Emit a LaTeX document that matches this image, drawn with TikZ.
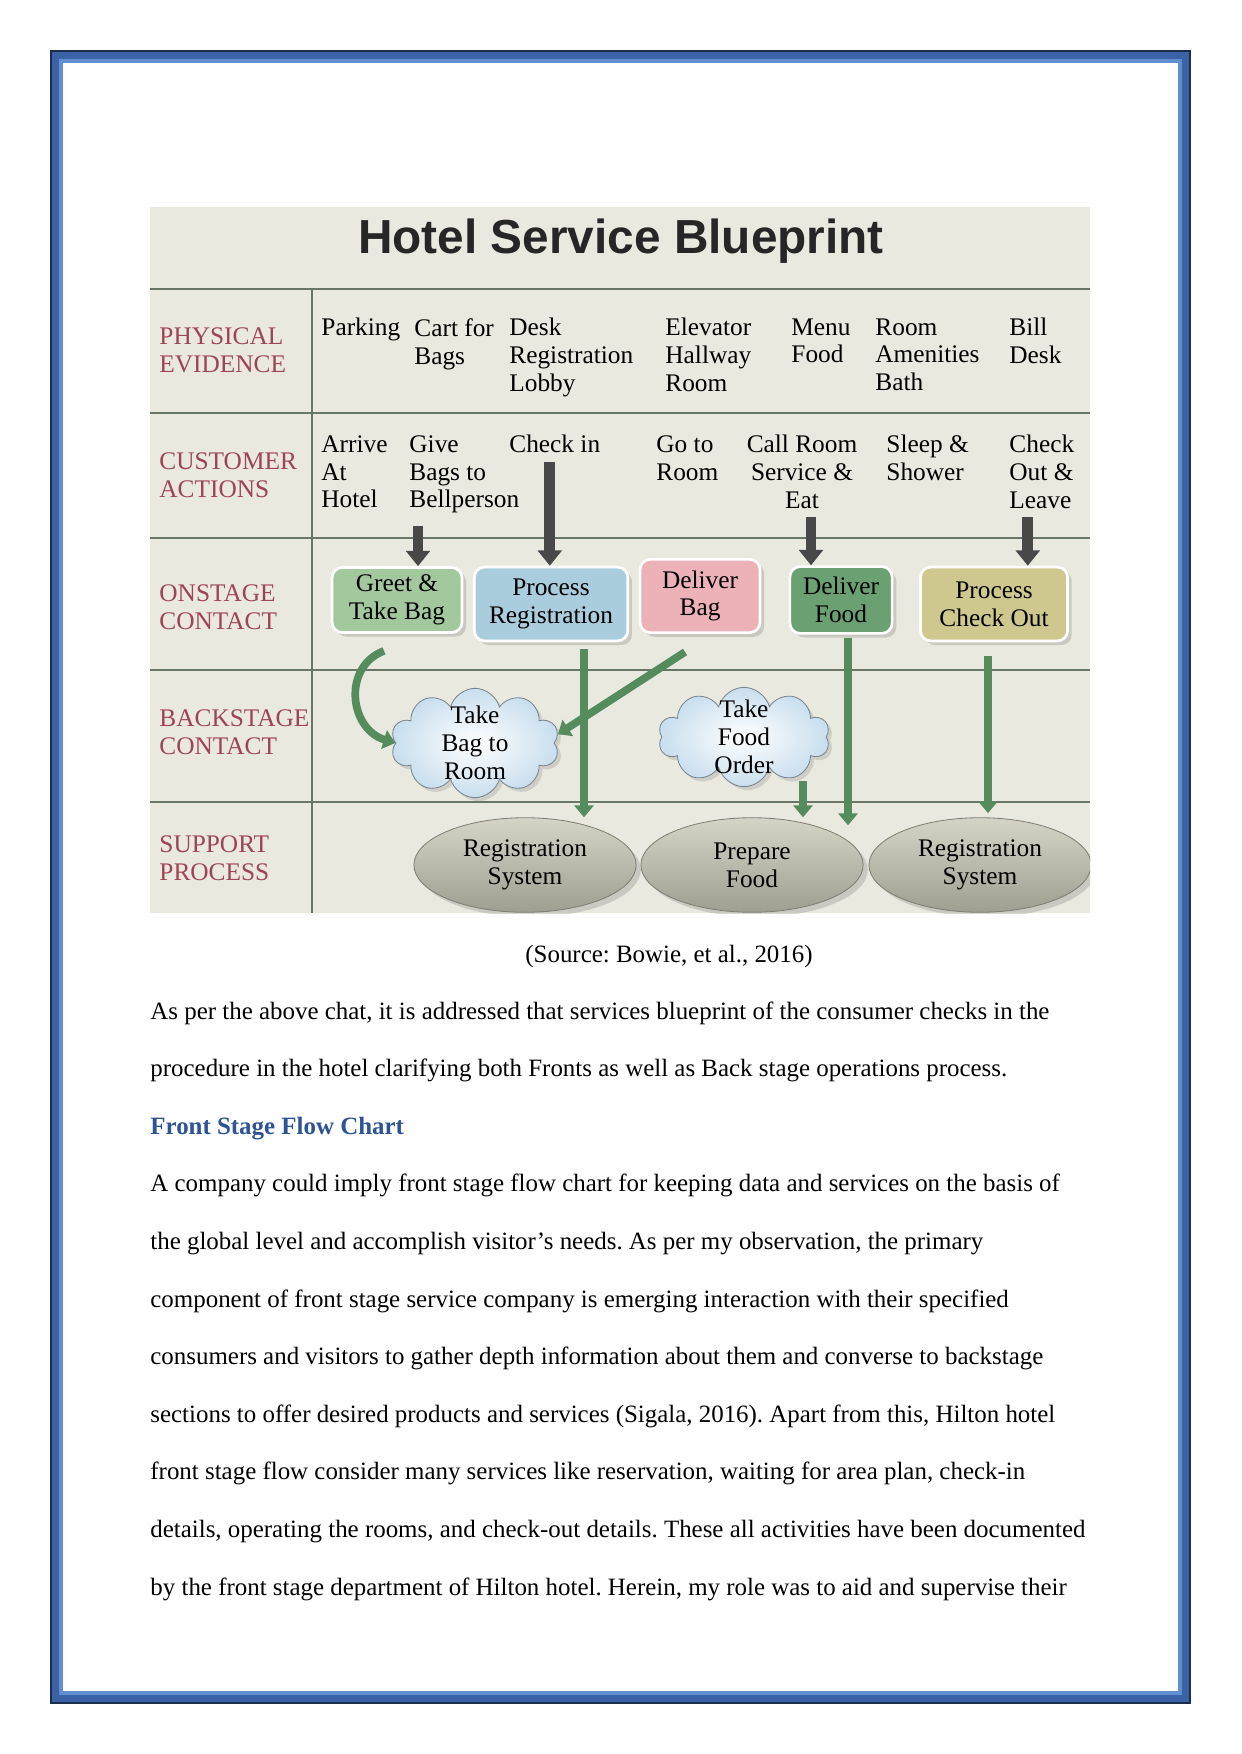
\documentclass[tikz,border=0pt]{standalone}
\usepackage{fontspec}
\setmainfont{Liberation Serif}
\newfontfamily\titlefont{Liberation Sans}
\usepackage{tikz}
\usetikzlibrary{arrows.meta,shapes,shapes.geometric,shapes.symbols,calc,positioning,shadows}
\frenchspacing

\definecolor{bandblue}{RGB}{58,98,165}
\definecolor{banddark}{RGB}{28,46,78}
\definecolor{bandlight}{RGB}{96,142,208}
\definecolor{chartbg}{RGB}{233,233,223}
\definecolor{laneline}{RGB}{105,118,102}
\definecolor{lanered}{RGB}{158,68,84}
\definecolor{greetgreen}{RGB}{164,200,158}
\definecolor{regblue}{RGB}{170,205,222}
\definecolor{bagpink}{RGB}{236,178,183}
\definecolor{foodgreen}{RGB}{106,160,114}
\definecolor{outkhaki}{RGB}{206,199,142}
\definecolor{cloudblue}{RGB}{200,222,238}
\definecolor{cloudline}{RGB}{120,132,142}
\definecolor{supptop}{RGB}{214,212,199}
\definecolor{suppbot}{RGB}{160,158,144}
\definecolor{arrowgray}{RGB}{72,72,72}
\definecolor{linkgreen}{RGB}{84,140,94}
\definecolor{headblue}{RGB}{47,84,150}

\newcommand{\chartfont}{\fontsize{12.2}{13.4}\selectfont}
\tikzset{lane/.style={font=\chartfont, text=lanered, align=left, anchor=north west, inner sep=0pt},
  item/.style={font=\chartfont, align=left, anchor=north west, inner sep=0pt},
  onstage/.style={draw=white, line width=1.3pt, rounded corners=5pt, align=center, font=\chartfont,
    inner sep=1pt, drop shadow={opacity=.3, shadow xshift=.7mm, shadow yshift=-.7mm}},
  backstage/.style={cloud, cloud puffs=10, cloud ignores aspect, draw=cloudline, inner color=white,
    outer color=cloudblue, align=center, font=\chartfont, inner xsep=0pt, inner ysep=-3mm,
    drop shadow={opacity=.25, shadow xshift=.6mm, shadow yshift=-.6mm}},
  support/.style={ellipse, draw=suppbot!80!black, top color=supptop, bottom color=suppbot, align=center,
    font=\chartfont, inner sep=0pt, minimum width=37.6mm, minimum height=16mm,
    drop shadow={opacity=.3, shadow xshift=.8mm, shadow yshift=-.8mm}},
  darrow/.style={draw=arrowgray, line width=1.8mm, -{Triangle[length=2.6mm,width=4mm]}},
  garrow/.style={draw=linkgreen, line width=1.3mm, -{Triangle[length=2mm,width=3.2mm]}},
  bodyline/.style={font=\fontsize{12}{14}\selectfont, anchor=base west, inner sep=0pt}}

\begin{document}
\begin{tikzpicture}[x=0.16922mm, y=-0.16922mm]
\useasboundingbox (0,0) rectangle (1241,1754);
% page frame
\draw[bandblue, line width=2.2mm] (56.5,56.5) rectangle (1184.5,1697.5);
\draw[bandlight, line width=0.7mm] (61,61) rectangle (1180,1693);
\draw[banddark, line width=0.4mm] (51,51) rectangle (1190,1703);

% blueprint chart
\begin{scope}
\clip (150,207) rectangle (1090,913);
\fill[chartbg] (150,207) rectangle (1090,913);
\draw[laneline, line width=1.2pt] (150,289) -- (1090,289) (150,413) -- (1090,413)
  (150,538) -- (1090,538) (150,670) -- (1090,670) (150,802) -- (1090,802)
  (312,289) -- (312,913);

\node[font=\titlefont\bfseries\fontsize{23}{26}\selectfont, text={rgb,255:red,38;green,38;blue,38}] (title) at (621,241) {Hotel Service Blueprint};

\node[lane] (pe) at (159,327) {PHYSICAL\\EVIDENCE};
\node[lane] (ca) at (159,452) {CUSTOMER\\ACTIONS};
\node[lane] (oc) at (159,584) {ONSTAGE\\CONTACT};
\node[lane] (bc) at (159,709) {BACKSTAGE\\CONTACT};
\node[lane] (sp) at (159,835) {SUPPORT\\PROCESS};

% physical evidence
\node[item] (park) at (321,318) {Parking};
\node[item] (cart) at (414,318) {Cart for\\Bags};
\node[item] (desk) at (509,318) {Desk\\Registration\\Lobby};
\node[item] (elev) at (665,318) {Elevator\\Hallway\\Room};
\node[item] (menu) at (791,318) {Menu\\Food};
\node[item] (amen) at (875,318) {Room\\Amenities\\Bath};
\node[item] (bill) at (1009,318) {Bill\\Desk};

% customer actions
\node[item] (aah) at (321,435) {Arrive\\At\\Hotel};
\node[item] (gb) at (409,435) {Give\\Bags to\\Bellperson};
\node[item] (ci) at (509,435) {Check in};
\node[item] (gr) at (656,435) {Go to\\Room};
\node[item, align=center, anchor=north] (crs) at (802,435) {Call Room\\Service \&\\Eat};
\node[item] (ss) at (886,435) {Sleep \&\\Shower};
\node[item] (co) at (1009,435) {Check\\Out \&\\Leave};

% onstage
\node[onstage, fill=greetgreen, minimum width=22mm, minimum height=11mm] (gt) at (397,600) {Greet \&\\Take Bag};
\node[onstage, fill=regblue, minimum width=26mm, minimum height=12.5mm] (pr) at (551,604) {Process\\Registration};
\node[onstage, fill=bagpink, minimum width=20.3mm, minimum height=12.4mm] (db) at (700,596) {Deliver\\Bag};
\node[onstage, fill=foodgreen, minimum width=17.3mm, minimum height=11.3mm] (df) at (841,600) {Deliver\\Food};
\node[onstage, fill=outkhaki, minimum width=24.9mm, minimum height=12.5mm] (pco) at (994,604) {Process\\Check Out};

% backstage
\node[backstage, minimum width=28.5mm, minimum height=18.5mm] (tbr) at (475,743) {Take\\Bag to\\Room};
\node[backstage, minimum width=29mm, minimum height=16.8mm] (tfo) at (744,737) {Take\\Food\\Order};

% support
\node[support] (rs1) at (525,865) {Registration\\System};
\node[support] (pf) at (752,865) {Prepare\\Food};
\node[support] (rs2) at (980,865) {Registration\\System};

% customer -> onstage
\coordinate (gbdown) at ($(gb.south west)+(9,12)$);
\coordinate (cidown) at ($(ci.south)+(-5,8)$);
\coordinate (crsdown) at ($(crs.south)+(9,8)$);
\coordinate (codown) at ($(co.south)+(-14,8)$);
\draw[darrow] (gbdown) -- (gbdown |- gt.north);
\draw[darrow] (cidown) -- (cidown |- pr.north);
\draw[darrow] (crsdown) -- (crsdown |- df.north);
\draw[darrow] (codown) -- (codown |- pco.north);

% onstage -> backstage / support
\coordinate (gtout) at ($(gt.south)+(-13,17)$);
\coordinate (dbout) at ($(db.south)+(-15,18)$);
\coordinate (prout) at ($(pr.south)+(33,7)$);
\coordinate (tfoout) at ($(tfo.south)+(59,-6)$);
\coordinate (dfout) at ($(df.south)+(7,3)$);
\coordinate (dfin) at ($(dfout |- pf.north)+(0,8)$);
\coordinate (pcoout) at ($(pco.south)+(-6,14)$);
\draw[garrow] (gtout) .. controls +(-42,16) and +(-46,-14) .. (tbr.west);
\draw[garrow] (dbout) -- (tbr.6);
\draw[garrow] (prout) -- (prout |- rs1.north);
\draw[garrow] (tfoout) -- (tfoout |- pf.north);
\draw[garrow] (dfout) -- (dfin);
\draw[garrow, shorten >=2pt] (pcoout) -- (pcoout |- rs2.north);
\end{scope}

% text below the chart
\node[font=\fontsize{12}{14}\selectfont] (src) at (669,956) {(Source: Bowie, et al., 2016)};
\node[bodyline] (l1) at (150,1019) {As per the above chat, it is addressed that services blueprint of the consumer checks in the};
\node[bodyline] (l2) at (150,1076.6) {procedure in the hotel clarifying both Fronts as well as Back stage operations process.};
\node[bodyline, font=\fontsize{12}{14}\selectfont\bfseries, text=headblue] (hd) at (150,1134.2) {Front Stage Flow Chart};
\node[bodyline] (l3) at (150,1191.8) {A company could imply front stage flow chart for keeping data and services on the basis of};
\node[bodyline] (l4) at (150,1249.4) {the global level and accomplish visitor’s needs. As per my observation, the primary};
\node[bodyline] (l5) at (150,1307) {component of front stage service company is emerging interaction with their specified};
\node[bodyline] (l6) at (150,1364.6) {consumers and visitors to gather depth information about them and converse to backstage};
\node[bodyline] (l7) at (150,1422.2) {sections to offer desired products and services (Sigala, 2016). Apart from this, Hilton hotel};
\node[bodyline] (l8) at (150,1479.8) {front stage flow consider many services like reservation, waiting for area plan, check-in};
\node[bodyline] (l9) at (150,1537.4) {details, operating the rooms, and check-out details. These all activities have been documented};
\node[bodyline] (l10) at (150,1595) {by the front stage department of Hilton hotel. Herein, my role was to aid and supervise their};
\end{tikzpicture}
\end{document}
